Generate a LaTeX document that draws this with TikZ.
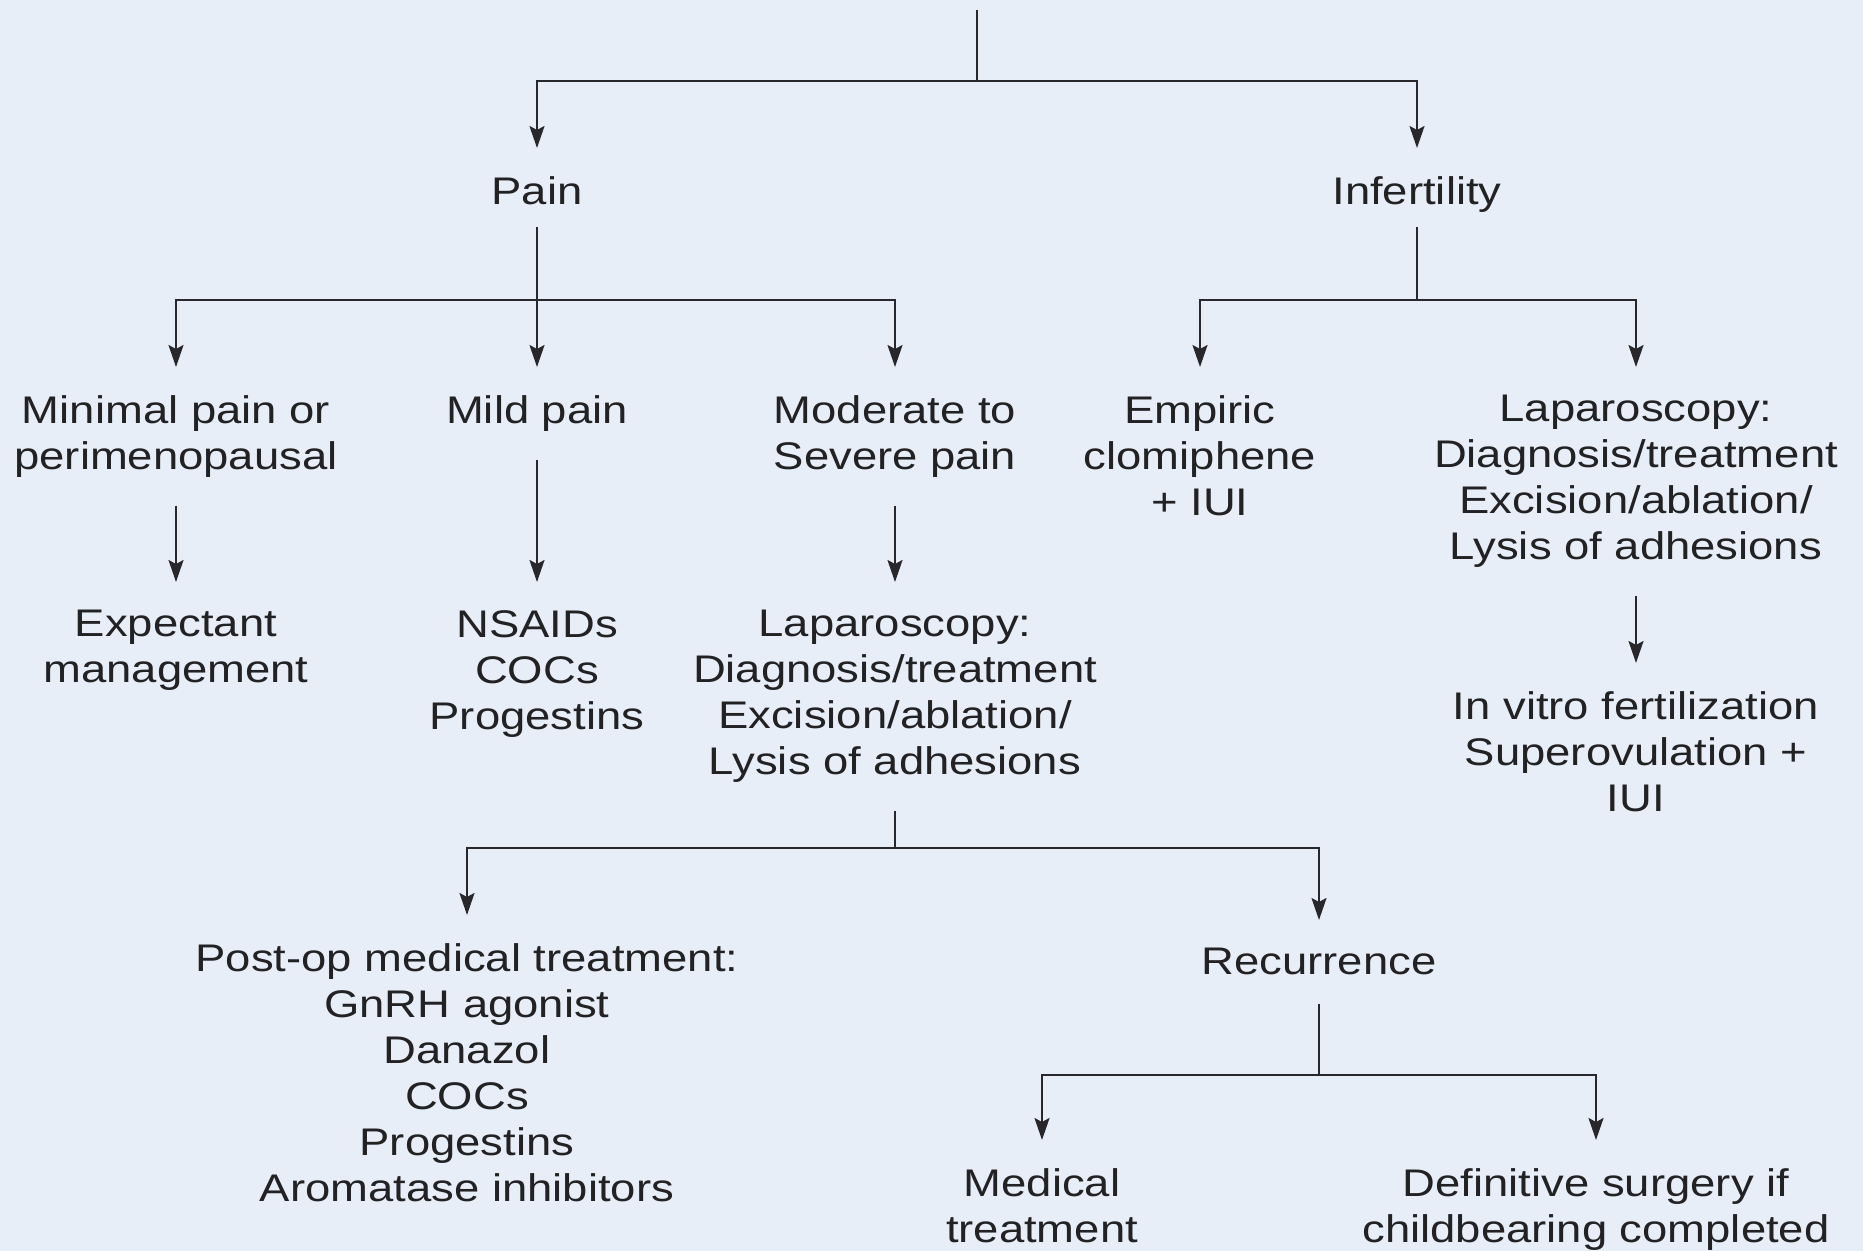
\documentclass[tikz,border=0pt]{standalone}
\usepackage{fontspec}
\setmainfont{Liberation Sans}[FakeStretch=1.18]
\usepackage{tikz}
\usetikzlibrary{arrows.meta, positioning}
\definecolor{bgblue}{RGB}{231,238,247}
\definecolor{inkgray}{RGB}{40,40,44}
\tikzset{
  txt/.style = {align=center, inner xsep=0pt, inner ysep=14pt,
      anchor=north, text=inkgray!85!black,
      font=\fontsize{19.25pt}{23pt}\selectfont},
  link/.style = {draw=inkgray, line width=1.1pt},
  arr/.style = {link, -{Stealth[length=11pt, width=7.5pt, inset=2pt]}},
}

\begin{document}
\begin{tikzpicture}[x=0.5pt, y=-0.5pt]
  \useasboundingbox (0,0) rectangle (1863,1251);
  \fill[bgblue] (0,0) rectangle (1863,1251);

  % first level
  \node[txt] (pain) at (537,148) {Pain};
  \node[txt] (infert) at (1417,148) {Infertility};

  % second level
  \node[txt] (minimal) at (176,367) {Minimal pain or\\perimenopausal};
  \node[txt] (mild) at (537,367) {Mild pain};
  \node[txt] (moderate) at (895,367) {Moderate to\\Severe pain};
  \node[txt] (empiric) at (1200,367) {Empiric\\clomiphene\\+ IUI};
  \node[txt] (lapright) at (1636,367) {Laparoscopy:\\Diagnosis/treatment\\Excision/ablation/\\Lysis of adhesions};

  % third level
  \node[txt] (expect) at (176,582) {Expectant\\management};
  \node[txt] (nsaid) at (537,582) {NSAIDs\\COCs\\Progestins};
  \node[txt] (lapmid) at (895,582) {Laparoscopy:\\Diagnosis/treatment\\Excision/ablation/\\Lysis of adhesions};
  \node[txt] (ivf) at (1636,663) {In vitro fertilization\\Superovulation +\\IUI};

  % after surgery
  \node[txt] (postop) at (467,915) {Post-op medical treatment:\\GnRH agonist\\Danazol\\COCs\\Progestins\\Aromatase inhibitors};
  \node[txt] (recur) at (1319,920) {Recurrence};
  \node[txt] (medical) at (1042,1140) {Medical\\treatment};
  \node[txt] (definitive) at (1596,1140) {Definitive surgery if\\childbearing completed};

  \coordinate (root) at (977,10);
  \coordinate (jroot) at (977,81);
  \coordinate (jpain) at (537,300);
  \coordinate (jinf) at (1417,300);
  \coordinate (jlap) at (895,848);
  \coordinate (jrec) at (1319,1075);

  \draw[link] (root) -- (jroot);
  \draw[arr] (jroot) -| (pain.north);
  \draw[arr] (jroot) -| (infert.north);

  \draw[arr, shorten <=-3pt] (pain.south) -- (mild.north);
  \draw[arr] (jpain) -| (minimal.north);
  \draw[arr] (jpain) -| (moderate.north);

  \draw[link, shorten <=-7pt] (infert.south) -- (jinf);
  \draw[arr] (jinf) -| (empiric.north);
  \draw[arr] (jinf) -| (lapright.north);

  \draw[arr] (minimal.south) -- (expect.north);
  \draw[arr] (mild.south) -- (nsaid.north);
  \draw[arr] (moderate.south) -- (lapmid.north);
  \draw[arr] (lapright.south) -- (ivf.north);

  \draw[link] (lapmid.south) -- (jlap);
  \draw[arr] (jlap) -| (postop.north);
  \draw[arr] (jlap) -| (recur.north);

  \draw[link] (recur.south) -- (jrec);
  \draw[arr] (jrec) -| (medical.north);
  \draw[arr] (jrec) -| (definitive.north);
\end{tikzpicture}
\end{document}
